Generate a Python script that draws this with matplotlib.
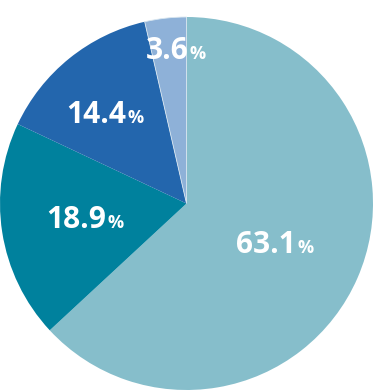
import matplotlib.pyplot as plt

shares = [63.1, 18.9, 14.4, 3.6]
colors = ['#86BECB', '#00819D', '#2366AD', '#8EB1D8']
# label anchor (number centre, baseline) in pie data units
label_pos = [(0.426, -0.265), (-0.590, -0.131), (-0.483, 0.432), (-0.105, 0.775)]

plt.rcParams['font.family'] = ['Open Sans', 'DejaVu Sans']

fig = plt.figure(figsize=(3.73, 3.90), dpi=100)
ax = fig.add_axes([0, 0, 1, 373 / 390])
wedges, _ = ax.pie(shares, colors=colors, startangle=90, counterclock=False,
                   radius=1, wedgeprops=dict(linewidth=0))
wedges[3].set_edgecolor('#d8e6f0')
wedges[3].set_linewidth(0.6)
ax.set_xlim(-1, 1)
ax.set_ylim(-1, 1)
ax.set_aspect('auto')
ax.axis('off')

nums = []
for v, (x, y) in zip(shares, label_pos):
    t = ax.text(x, y, f'{v:.1f}', ha='center', va='baseline', color='white',
                fontsize=21.5, fontweight='bold')
    nums.append(t)

fig.canvas.draw()
r = fig.canvas.get_renderer()
for t, (x, y) in zip(nums, label_pos):
    bb = t.get_window_extent(r)
    _, by = ax.transData.transform((x, y))
    fig.text(bb.x1 + 1.5, by, '%', transform=None, ha='left', va='baseline',
             color='white', fontsize=13, fontweight='bold')

fig.savefig('out.png', dpi=100)
